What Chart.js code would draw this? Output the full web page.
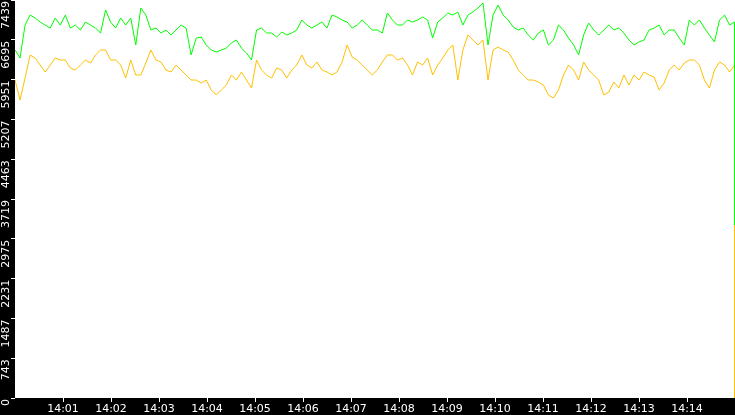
<!DOCTYPE html>
<html><head><meta charset="utf-8">
<script src="https://cdn.jsdelivr.net/npm/chart.js@4/dist/chart.umd.min.js"></script>
<style>html,body{margin:0;padding:0;background:#000;}#w{width:735px;height:415px;}</style>
</head><body><div id="w"><canvas id="c"></canvas></div>
<script>
const yTicks = [0,743,1487,2231,2975,3719,4463,5207,5951,6695,7439];
const minuteTicks = [60,120,180,240,300,360,420,480,540,600,660,720,780,840];
const greenValues = [6504,6355,6971,7158,7102,7027,6971,6915,7102,6971,7158,6915,6971,6878,7027,6971,6915,6822,7252,7027,6915,7102,6971,7102,6598,7289,7158,6878,6915,6822,6878,6784,6878,6971,6915,6411,6728,6747,6598,6504,6467,6504,6541,6635,6691,6541,6448,6317,
6878,6915,6822,6822,6747,6841,6784,6822,6878,7065,6971,6915,6971,7027,6915,7158,7121,7065,7027,6915,6971,7065,6971,6878,6878,6822,7196,7065,6971,6971,7065,7027,7065,7121,7065,6728,7027,7102,7196,7158,7214,6971,7158,7214,7289,7383,6598,7158,7345,
7158,7065,6934,6878,6915,6784,6691,6822,6878,6598,6691,6971,6878,6728,6598,6411,6784,7009,6878,6784,6878,6971,6878,6915,6822,6691,6598,6654,6691,6878,6915,6971,6784,6878,6878,6728,6598,7065,6971,7065,6915,6784,6654,7065,7158,6971,7027,3233];
const yellowValues = [5943,5570,5981,6411,6355,6224,6093,6224,6355,6317,6317,6168,6130,6224,6317,6261,6411,6504,6504,6317,6317,6224,5981,6317,6037,6037,6261,6504,6317,6280,6130,6093,6224,6130,6037,5943,5943,5887,5943,5757,5663,5757,5850,6037,5943,6093,5943,5794,
6317,6130,6037,5981,6168,6130,5981,6130,6224,6411,6224,6168,6280,6130,6093,6037,6093,6280,6598,6373,6317,6224,6130,6037,6130,6280,6411,6411,6317,6355,6224,6037,6280,6224,6355,6037,6224,6355,6504,6598,5943,6504,6784,6691,6598,6691,5943,6504,6560,
6504,6467,6317,6130,6037,5943,5943,5906,5850,5663,5607,5757,6037,6224,6130,5943,6280,6130,6037,5943,5663,5719,5906,5794,6037,5850,6037,5943,6093,6037,5999,5757,5887,6130,6224,6130,6261,6317,6317,6224,5943,5794,6130,6280,6224,6093,6224,0];

// sample times in seconds after 14:00; final (drop) sample sits at the same instant as the end of the window
function pts(vals){ const n=vals.length; return vals.map((v,i)=>({x: i<n-1 ? i*899.5/(n-2) : 899.5, y:v})); }

const bgPlugin = {
  id:'bg',
  beforeDraw(chart){
    const {ctx, chartArea:a} = chart;
    ctx.save(); ctx.fillStyle='#000'; ctx.fillRect(0,0,chart.width,chart.height);
    ctx.fillStyle='#fff'; ctx.fillRect(a.left,a.top,a.right-a.left,a.bottom-a.top); ctx.restore();
  },
  afterDraw(chart){
    const ctx=chart.ctx, ys=chart.scales.y;
    ctx.save(); ctx.fillStyle='#fff'; ctx.font='11px "DejaVu Sans"'; ctx.textAlign='right'; ctx.textBaseline='middle';
    yTicks.forEach(v=>{ const p=ys.getPixelForValue(v); ctx.save(); ctx.translate(6,p+1); ctx.rotate(-Math.PI/2); ctx.fillText(String(v),0,0); ctx.restore(); });
    ctx.restore();
  }
};

new Chart(document.getElementById('c'),{
  type:'line',
  data:{datasets:[
    {data:pts(greenValues),borderColor:'#00ff00',borderWidth:1,pointRadius:0,tension:0},
    {data:pts(yellowValues),borderColor:'#ffc000',borderWidth:1,pointRadius:0,tension:0}
  ]},
  options:{
    animation:false,responsive:true,maintainAspectRatio:false,
    layout:{padding:0},
    plugins:{legend:{display:false},tooltip:{enabled:false}},
    scales:{
      x:{type:'linear',min:0,max:900,
        afterBuildTicks(s){ s.ticks = minuteTicks.map(v=>({value:v})); },
        afterFit(s){ s.height=17; },
        border:{display:false},
        grid:{drawOnChartArea:false,color:'#fff',tickLength:4},
        ticks:{color:'#fff',font:{family:'DejaVu Sans',size:11},padding:1,maxRotation:0,autoSkip:false,
          callback:v=>'14:'+String(Math.round(v/60)).padStart(2,'0')}},
      y:{min:0,max:7439,
        afterBuildTicks(s){ s.ticks = yTicks.map(v=>({value:v})); },
        afterFit(s){ s.width=15; },
        border:{display:false},
        grid:{drawOnChartArea:false,color:'#fff',tickLength:4},
        ticks:{display:false}}
    }
  },
  plugins:[bgPlugin]
});
</script></body></html>
